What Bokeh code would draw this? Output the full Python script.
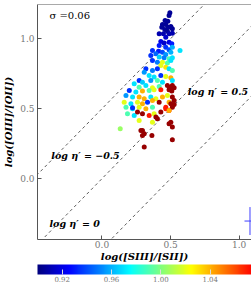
import numpy as np
from bokeh.plotting import figure
from bokeh.models import (LinearColorMapper, ColorBar, FixedTicker, Span,
                          ColumnDataSource, PrintfTickFormatter)
from bokeh.core.properties import value
from bokeh.embed import file_html
from bokeh.resources import INLINE

# ---------------- data ----------------
log_s3s2 = [0.495, 0.489, 0.460, 0.480, 0.441, 0.465, 0.502, 0.436, 0.484, 0.458,
            0.513, 0.477, 0.513, 0.417, 0.448, 0.489, 0.465, 0.429, 0.453, 0.489,
            0.509, 0.417, 0.465, 0.368, 0.412, 0.441, 0.489, 0.513, 0.569, 0.502,
            0.393, 0.465, 0.356, 0.417, 0.453, 0.489, 0.513, 0.368, 0.404, 0.441,
            0.477, 0.502, 0.429, 0.465, 0.320, 0.368, 0.404, 0.489, 0.513, 0.308,
            0.344, 0.380, 0.429, 0.465, 0.502, 0.271, 0.295, 0.356, 0.404, 0.441,
            0.513, 0.235, 0.271, 0.320, 0.368, 0.417, 0.477, 0.513, 0.199, 0.247,
            0.295, 0.344, 0.380, 0.429, 0.489, 0.526, 0.175, 0.223, 0.271, 0.308,
            0.356, 0.393, 0.441, 0.477, 0.513, 0.162, 0.211, 0.259, 0.295, 0.332,
            0.368, 0.417, 0.489, 0.526, 0.175, 0.223, 0.271, 0.320, 0.368, 0.465,
            0.513, 0.186, 0.235, 0.295, 0.344, 0.380, 0.429, 0.489, 0.271, 0.404,
            0.368, 0.489, 0.513, 0.502, 0.284, 0.295, 0.308, 0.295, 0.364, 0.513,
            0.308, 0.133, 0.393, 0.513, 0.526, 0.502, 0.465, 0.489, 0.259, 0.223,
            0.495, 0.509]
log_o3o2 = [1.186, 1.166, 1.131, 1.126, 1.102, 1.102, 1.088, 1.083, 1.083, 1.066,
            1.071, 1.054, 1.040, 1.036, 1.036, 1.036, 1.011, 0.981, 0.969, 0.976,
            0.964, 0.952, 0.940, 0.916, 0.911, 0.904, 0.921, 0.940, 0.916, 0.904,
            0.893, 0.888, 0.881, 0.869, 0.864, 0.857, 0.864, 0.845, 0.833, 0.833,
            0.826, 0.845, 0.809, 0.797, 0.786, 0.774, 0.786, 0.786, 0.774, 0.761,
            0.738, 0.726, 0.738, 0.731, 0.721, 0.702, 0.690, 0.702, 0.702, 0.690,
            0.702, 0.679, 0.654, 0.666, 0.650, 0.659, 0.666, 0.666, 0.631, 0.619,
            0.626, 0.631, 0.636, 0.636, 0.636, 0.650, 0.595, 0.583, 0.583, 0.571,
            0.583, 0.571, 0.583, 0.595, 0.583, 0.547, 0.536, 0.547, 0.536, 0.547,
            0.559, 0.547, 0.547, 0.559, 0.511, 0.500, 0.511, 0.500, 0.511, 0.511,
            0.524, 0.464, 0.452, 0.464, 0.452, 0.464, 0.476, 0.488, 0.416, 0.429,
            0.404, 0.393, 0.369, 0.404, 0.345, 0.345, 0.321, 0.309, 0.309, 0.279,
            0.226, 0.357, 0.440, 0.511, 0.531, 0.536, 0.500, 0.488, 0.476, 0.507,
            0.652, 0.626]
eta_ratio = [0.905, 0.905, 0.905, 0.905, 0.905, 0.905, 0.905, 0.905, 0.905, 0.905,
             0.905, 0.905, 0.910, 0.910, 0.910, 0.910, 0.915, 0.920, 0.915, 0.920,
             0.930, 0.930, 0.935, 0.935, 0.930, 0.940, 0.940, 0.960, 0.970, 0.960,
             0.945, 0.955, 0.935, 0.965, 0.950, 0.990, 0.970, 0.935, 0.950, 1.020,
             0.990, 0.970, 1.020, 1.030, 0.935, 0.950, 0.935, 0.970, 0.990, 0.955,
             0.970, 0.970, 0.935, 1.020, 1.040, 0.935, 0.965, 0.955, 0.990, 0.970,
             0.970, 0.970, 0.990, 0.970, 1.020, 0.990, 1.095, 1.095, 0.935, 0.970,
             1.040, 0.990, 1.020, 1.070, 1.095, 1.095, 0.955, 0.970, 1.040, 1.040,
             0.970, 1.020, 1.040, 1.020, 1.095, 1.020, 0.970, 1.020, 1.040, 0.935,
             1.040, 1.095, 1.040, 1.095, 0.990, 0.970, 1.020, 1.040, 0.990, 1.070,
             1.040, 0.990, 0.970, 1.095, 1.070, 1.020, 1.095, 1.070, 1.020, 1.095,
             1.020, 1.095, 1.095, 1.095, 1.095, 1.095, 1.095, 1.095, 1.095, 1.095,
             1.095, 1.005, 1.095, 1.095, 1.095, 1.095, 1.070, 1.040, 1.095, 0.935,
             1.095, 1.095]

eta_levels = [-0.5, 0.0, 0.5]          # log eta' of the dashed lines
eta_label_x = [-0.383, -0.369, 0.625]
eta_label_y = [-0.319, 0.166, 0.620]
eta_label_txt = ["log \u03b7\u2032 = 0", "log \u03b7\u2032 = \u22120.5", "log \u03b7\u2032 = 0.5"]

x_ticks = [0.0, 0.5, 1.0]
y_ticks = [0.0, 0.5, 1.0]
cbar_ticks = [0.92, 0.96, 1.00, 1.04]
c_low, c_high = 0.90, 1.10

sigma_text = "\u03c3 =0.06"
err_x, err_y, err_dx, err_dy = [1.079], [-0.303], [0.04], [0.10]

# ---------------- jet palette ----------------
t = np.linspace(0, 1, 256)
r = np.clip(1.5 - np.abs(4 * t - 3), 0, 1)
g = np.clip(1.5 - np.abs(4 * t - 2), 0, 1)
b = np.clip(1.5 - np.abs(4 * t - 1), 0, 1)
jet = ["#%02x%02x%02x" % (int(rr * 255), int(gg * 255), int(bb * 255)) for rr, gg, bb in zip(r, g, b)]

mapper = LinearColorMapper(palette=jet, low=c_low, high=c_high)

x_lo, x_hi = -0.47, 1.09
y_lo, y_hi = -0.435, 1.245

p = figure(frame_width=214, frame_height=235, output_backend="svg", toolbar_location=None,
           x_range=(x_lo, x_hi), y_range=(y_lo, y_hi),
           min_border_left=30, min_border_right=0, min_border_top=4, min_border_bottom=0)
p.outline_line_color = None
p.grid.visible = False
p.background_fill_color = "white"

serif = "DejaVu Serif"
for ax in (p.xaxis[0], p.yaxis[0]):
    ax.axis_line_color = "#555555"
    ax.major_tick_line_color = "#555555"
    ax.major_tick_in = 4
    ax.major_tick_out = 0
    ax.minor_tick_line_color = None
    ax.major_label_text_font = serif
    ax.major_label_text_font_size = "9px"
    ax.major_label_text_color = "#777777"
    ax.axis_label_text_font = serif
    ax.axis_label_text_font_style = "bold italic"
    ax.axis_label_text_font_size = "10px"
    ax.axis_label_text_color = "black"
    ax.formatter = PrintfTickFormatter(format="%.1f")

p.xaxis.ticker = FixedTicker(ticks=x_ticks)
p.yaxis.ticker = FixedTicker(ticks=y_ticks)
p.xaxis.axis_label = "log([SIII]/[SII])"
p.yaxis.axis_label = "log([OIII]/[OII])"
p.xaxis.major_label_standoff = 1
p.xaxis.axis_label_standoff = 0
p.yaxis.major_label_standoff = 3
p.yaxis.axis_label_standoff = 3

p.add_layout(Span(location=y_hi, dimension="width", line_color="#555555", line_width=1))

# dashed lines of constant log eta'
xs_line = [x_lo - 0.1, x_hi + 0.1]
for lev in eta_levels:
    p.line(xs_line, [xx - lev for xx in xs_line], line_color="#333333",
           line_dash="3 3", line_width=0.8)

src = ColumnDataSource(dict(x=log_s3s2, y=log_o3o2, v=eta_ratio))
p.scatter("x", "y", source=src, size=5, line_color=None,
          fill_color={"field": "v", "transform": mapper})

p.text(x=eta_label_x, y=eta_label_y, text=eta_label_txt, text_font=value(serif),
       text_font_style="bold italic", text_font_size="9.5px", text_baseline="middle",
       text_color="black")
p.text(x=[-0.383], y=[1.166], text=[sigma_text], text_font=value(serif),
       text_font_size="10px", text_baseline="middle", text_color="black")

# typical error bar
p.segment(x0=[err_x[0] - err_dx[0]], y0=err_y, x1=[err_x[0] + err_dx[0]], y1=err_y,
          line_color="#3f3fff", line_width=1)
p.segment(x0=err_x, y0=[err_y[0] - err_dy[0]], x1=err_x, y1=[err_y[0] + err_dy[0]],
          line_color="#3f3fff", line_width=1)

cbar = ColorBar(color_mapper=mapper, orientation="horizontal", height=10,
                padding=0, margin=0, ticker=FixedTicker(ticks=cbar_ticks),
                formatter=PrintfTickFormatter(format="%.2f"),
                major_label_text_font=serif, major_label_text_font_size="7px",
                major_label_text_color="#777777", label_standoff=1,
                display_low=c_low, display_high=1.073,
                major_tick_line_color="#dddddd", bar_line_color=None,
                border_line_color=None, background_fill_color=None)
p.add_layout(cbar, "below")

open("out.html", "w").write(file_html(p, INLINE))
